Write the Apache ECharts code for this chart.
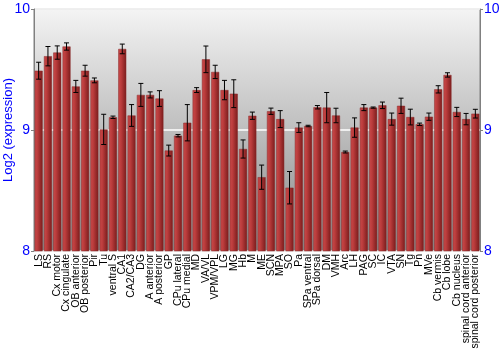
<!DOCTYPE html>
<html>
<head>
<meta charset="utf-8">
<script src="https://cdn.jsdelivr.net/npm/echarts@6/dist/echarts.min.js"></script>
<style>
  html, body { margin: 0; padding: 0; background: #fff; }
  #chart { width: 500px; height: 350px; }
</style>
</head>
<body>
<div id="chart"></div>
<script>
// brain regions
const regions = [
  'LS', 'RS', 'Cx motor', 'Cx cingulate', 'OB anterior', 'OB posterior', 'Pir', 'Tu',
  'ventral S', 'CA1', 'CA2/CA3', 'DG', 'A anterior', 'A posterior', 'GP', 'CPu lateral',
  'CPu medial', 'MD', 'VA/VL', 'VPM/VPL', 'LG', 'MG', 'Hb', 'M', 'ME', 'SCN', 'MPA', 'SO',
  'Pa', 'SPa ventral', 'SPa dorsal', 'DM', 'VMH', 'Arc', 'LH', 'PAG', 'SC', 'IC', 'VTA',
  'SN', 'Tg', 'Pn', 'MVe', 'Cb vermis', 'Cb lobe', 'Cb nucleus', 'spinal cord anterior',
  'spinal cord posterior'
]

// mean log2 expression
const means = [
  9.49, 9.61, 9.64, 9.69, 9.36, 9.49, 9.41, 9.005,
  9.105, 9.67, 9.12, 9.29, 9.29, 9.26, 8.83, 8.953,
  9.06, 9.33, 9.584, 9.48, 9.33, 9.30, 8.843, 9.118, 8.61, 9.155, 9.09, 8.523,
  9.02, 9.033, 9.188, 9.185, 9.12, 8.818, 9.02, 9.185, 9.185, 9.204, 9.09,
  9.20, 9.107, 9.047, 9.11, 9.336, 9.455, 9.149, 9.09,
  9.135
]

// error (+/-)
const errors = [
  0.07, 0.08, 0.055, 0.03, 0.05, 0.045, 0.02, 0.125,
  0.01, 0.04, 0.09, 0.095, 0.025, 0.065, 0.045, 0.01,
  0.15, 0.02, 0.11, 0.055, 0.08, 0.115, 0.075, 0.03, 0.10, 0.026, 0.07, 0.134,
  0.04, 0.006, 0.014, 0.125, 0.06, 0.008, 0.08, 0.025, 0.005, 0.027, 0.05,
  0.063, 0.065, 0.01, 0.03, 0.03, 0.018, 0.038, 0.047,
  0.036
]

const yTicks = [8, 9, 10]

const errData = means.map((m, i) => [i, m - errors[i], m + errors[i]])

const chart = echarts.init(document.getElementById('chart'))

const blueLabel = {
  color: '#0000ff',
  fontSize: 14,
  fontFamily: 'Liberation Sans, Arial, sans-serif'
}

const yAxisBase = {
  type: 'value',
  min: yTicks[0],
  max: yTicks[yTicks.length - 1],
  interval: 1,
  axisLine: { show: true, lineStyle: { color: '#808080', width: 1 } },
  axisTick: { show: true, length: 3, lineStyle: { color: '#808080' } },
  splitLine: { show: false }
}

chart.setOption({
  animation: false,
  grid: {
    left: 34,
    right: 20,
    top: 9,
    bottom: 99,
    outerBoundsMode: 'none',
    containLabel: false,
    show: true,
    borderColor: '#808080',
    borderWidth: 1,
    backgroundColor: new echarts.graphic.LinearGradient(0, 0, 0, 1, [
      { offset: 0, color: '#f4f4f4' },
      { offset: 1, color: '#888888' }
    ])
  },
  xAxis: {
    type: 'category',
    data: regions,
    axisLine: { show: false },
    axisTick: { show: false },
    axisLabel: {
      interval: 0,
      rotate: 90,
      margin: 3,
      color: '#000',
      fontSize: 10.5,
      fontFamily: 'Liberation Sans, Arial, sans-serif'
    }
  },
  yAxis: [
    {
      ...yAxisBase,
      position: 'left',
      name: 'Log2 (expression)',
      nameLocation: 'middle',
      nameRotate: 90,
      nameGap: 19,
      nameMoveOverlap: false,
      nameTextStyle: { color: '#0000ff', fontSize: 13, fontFamily: 'Liberation Sans, Arial, sans-serif' },
      axisLabel: { ...blueLabel, margin: 4 },
      splitLine: { show: true, lineStyle: { color: '#ffffff', width: 1.5 } }
    },
    {
      ...yAxisBase,
      position: 'right',
      axisLabel: { ...blueLabel, margin: 4 }
    }
  ],
  series: [
    {
      type: 'bar',
      data: means,
      barWidth: '86%',
      itemStyle: {
        color: new echarts.graphic.LinearGradient(0, 0, 1, 0, [
          { offset: 0, color: '#c84a4a' },
          { offset: 0.35, color: '#bb3c3c' },
          { offset: 1, color: '#7a1c1c' }
        ]),
        borderColor: '#8a2a2a',
        borderWidth: 0.5
      },
      z: 2
    },
    {
      type: 'custom',
      data: errData,
      z: 3,
      renderItem: (params, api) => {
        const x = api.value(0)
        const lo = api.coord([x, api.value(1)])
        const hi = api.coord([x, api.value(2)])
        const cap = 2.5
        const style = { stroke: '#000', lineWidth: 1 }
        return {
          type: 'group',
          children: [
            { type: 'line', shape: { x1: lo[0], y1: lo[1], x2: hi[0], y2: hi[1] }, style },
            { type: 'line', shape: { x1: hi[0] - cap, y1: hi[1], x2: hi[0] + cap, y2: hi[1] }, style },
            { type: 'line', shape: { x1: lo[0] - cap, y1: lo[1], x2: lo[0] + cap, y2: lo[1] }, style }
          ]
        }
      }
    }
  ]
})
</script>
</body>
</html>
